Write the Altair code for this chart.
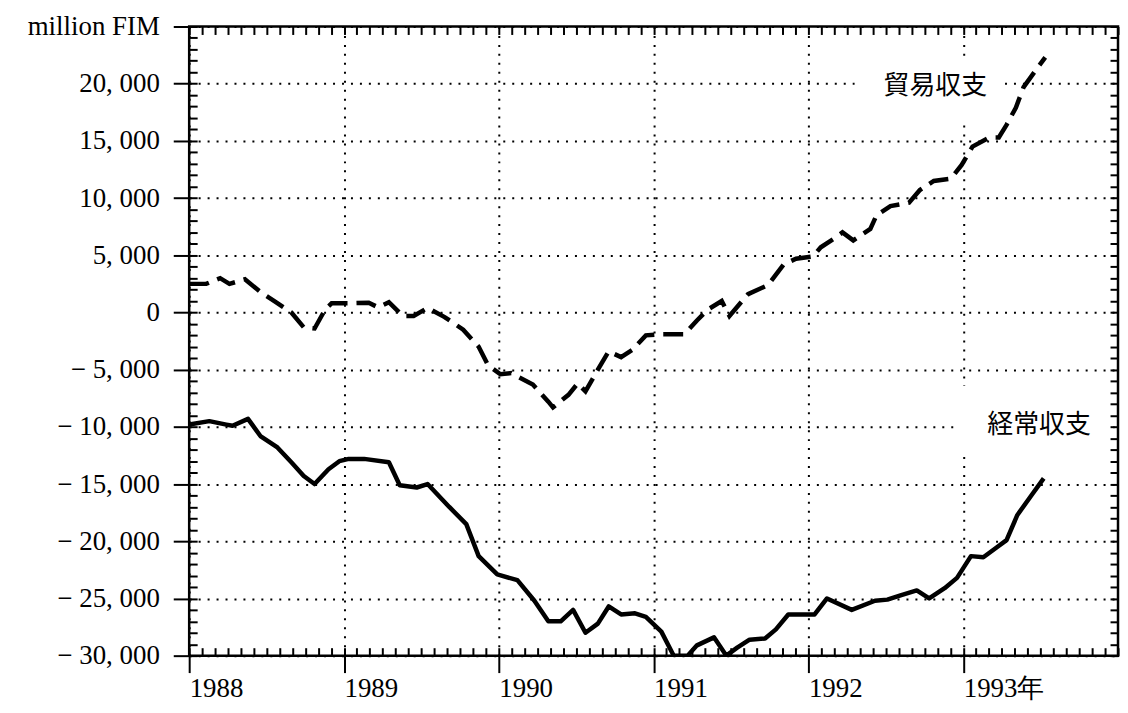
import altair as alt
import pandas as pd

# ---- data (decimal years, million FIM) ----
TRADE_T = [1988.00, 1988.11, 1988.20, 1988.26, 1988.36, 1988.46, 1988.55, 1988.66, 1988.74, 1988.81,
           1988.88, 1988.92, 1989.03, 1989.16, 1989.22, 1989.29, 1989.38, 1989.45, 1989.54, 1989.65,
           1989.77, 1989.87, 1989.93, 1990.01, 1990.08, 1990.22, 1990.32, 1990.35, 1990.45, 1990.51,
           1990.56, 1990.64, 1990.71, 1990.79, 1990.86, 1990.95, 1991.04, 1991.14, 1991.20, 1991.28,
           1991.35, 1991.44, 1991.49, 1991.61, 1991.74, 1991.84, 1991.92, 1992.03, 1992.08, 1992.17,
           1992.22, 1992.29, 1992.40, 1992.44, 1992.53, 1992.65, 1992.72, 1992.81, 1992.92, 1992.99,
           1993.06, 1993.17, 1993.23, 1993.28, 1993.34, 1993.39, 1993.47, 1993.53]
TRADE_V = [2500, 2500, 3000, 2500, 2900, 1800, 1000, 0, -1300, -1400,
           300, 800, 800, 850, 450, 900, -300, -300, 400, -400,
           -1500, -3000, -4600, -5400, -5300, -6300, -7800, -8300, -7200, -6200,
           -6900, -5000, -3400, -3900, -3300, -2000, -1900, -1900, -1900, -700,
           250, 1000, -300, 1600, 2400, 4200, 4700, 4900, 5700, 6500,
           7000, 6300, 7300, 8500, 9300, 9600, 10700, 11500, 11700, 12900,
           14500, 15300, 15300, 16400, 17900, 19700, 21200, 22300]

CA_T = [1988.00, 1988.13, 1988.24, 1988.28, 1988.38, 1988.46, 1988.57, 1988.66, 1988.74, 1988.81,
        1988.90, 1988.97, 1989.03, 1989.13, 1989.29, 1989.36, 1989.47, 1989.54, 1989.68, 1989.79,
        1989.87, 1989.99, 1990.12, 1990.23, 1990.32, 1990.40, 1990.48, 1990.56, 1990.64, 1990.71,
        1990.79, 1990.88, 1990.95, 1991.05, 1991.13, 1991.22, 1991.28, 1991.39, 1991.47, 1991.54,
        1991.62, 1991.72, 1991.79, 1991.87, 1991.96, 1992.04, 1992.12, 1992.28, 1992.43, 1992.51,
        1992.60, 1992.70, 1992.78, 1992.88, 1992.96, 1993.05, 1993.13, 1993.22, 1993.28, 1993.35,
        1993.44, 1993.52]
CA_V = [-9800, -9500, -9800, -9900, -9300, -10800, -11800, -13100, -14300, -15000,
        -13700, -13000, -12800, -12800, -13100, -15100, -15300, -15000, -17000, -18500,
        -21300, -22900, -23400, -25200, -27000, -27000, -26000, -28000, -27200, -25700,
        -26400, -26300, -26600, -27900, -30000, -30000, -29100, -28400, -30000, -29300,
        -28600, -28500, -27700, -26400, -26400, -26400, -25000, -26000, -25200, -25100,
        -24700, -24300, -25000, -24100, -23200, -21300, -21400, -20500, -19900, -17700,
        -16000, -14500]

LABEL_TEXT = ["貿易収支", "経常収支"]
LABEL_T = [1992.82, 1993.49]
LABEL_V = [19800, -9800]

# white patches behind the two labels (they interrupt the grid in the original)
BOX_T1 = [1992.30, 1992.97]
BOX_T2 = [1993.26, 1993.97]
BOX_V1 = [16500, -12300]
BOX_V2 = [22250, -6400]

X_MAJOR = [1988, 1989, 1990, 1991, 1992, 1993]
X_MINOR = [1988 + k / 12 for k in range(73)]
Y_MAJOR = list(range(-30000, 25001, 5000))
Y_MINOR = list(range(-30000, 25001, 1000))

trade = pd.DataFrame({"t": TRADE_T, "v": TRADE_V})
ca = pd.DataFrame({"t": CA_T, "v": CA_V})
labels = pd.DataFrame({"t": LABEL_T, "v": LABEL_V, "txt": LABEL_TEXT})
boxes = pd.DataFrame({"t1": BOX_T1, "t2": BOX_T2, "v1": BOX_V1, "v2": BOX_V2})

xs = alt.Scale(domain=[1988, 1994], nice=False, zero=False)
ys = alt.Scale(domain=[-30000, 25000], nice=False, zero=False)

SERIF = "Liberation Serif"

x_main = alt.Axis(orient="bottom", values=X_MAJOR,
                  labelExpr="datum.value == 1993 ? '1993年' : format(datum.value, 'd')",
                  tickSize=17, tickWidth=2, tickColor="black", domain=False,
                  grid=True, gridDash=[2, 7], gridColor="black", gridWidth=2, gridOpacity=1,
                  labelFont=SERIF, labelFontSize=27, labelColor="black", labelAlign="left",
                  labelPadding=3, labelFlush=False, labelOverlap=False, title=None, zindex=0)
y_main = alt.Axis(orient="left", values=Y_MAJOR,
                  labelExpr="datum.value == 25000 ? 'million FIM' : "
                            "replace(replace(format(datum.value, ','), ',', ', '), '−', '− ')",
                  tickSize=16, tickWidth=2, tickColor="black", domain=False,
                  grid=True, gridDash=[2, 7], gridColor="black", gridWidth=2, gridOpacity=1,
                  labelFont=SERIF, labelFontSize=27, labelColor="black",
                  labelPadding=14, labelFlush=False, labelOverlap=False, title=None, zindex=0)


def minor(orient, vals):
    return alt.Axis(orient=orient, values=vals, offset=-8, tickSize=8, tickWidth=2,
                    tickColor="black", labels=False, domain=False, grid=False,
                    title=None, zindex=1)


box_layer = alt.Chart(boxes).mark_rect(color="white").encode(
    x=alt.X("t1:Q", scale=xs, axis=x_main),
    x2="t2:Q",
    y=alt.Y("v1:Q", scale=ys, axis=y_main),
    y2="v2:Q",
)

trade_layer = alt.Chart(trade).mark_line(
    color="black", strokeWidth=4.5, strokeDash=[20, 9], strokeCap="butt", clip=True
).encode(
    x=alt.X("t:Q", scale=xs, axis=minor("bottom", X_MINOR)),
    y=alt.Y("v:Q", scale=ys, axis=minor("left", Y_MINOR)),
)

ca_layer = alt.Chart(ca).mark_line(
    color="black", strokeWidth=4.5, strokeJoin="round", clip=True
).encode(
    x=alt.X("t:Q", scale=xs, axis=minor("top", X_MINOR)),
    y=alt.Y("v:Q", scale=ys, axis=minor("right", Y_MINOR)),
)

text_layer = alt.Chart(labels).mark_text(
    font="Noto Sans CJK JP", fontSize=26, color="black", align="center", baseline="middle"
).encode(
    x=alt.X("t:Q", scale=xs, axis=None),
    y=alt.Y("v:Q", scale=ys, axis=None),
    text="txt:N",
)

chart = alt.layer(box_layer, trade_layer, ca_layer, text_layer).resolve_scale(
    x="shared", y="shared"
).resolve_axis(
    x="independent", y="independent"
).properties(
    width=933, height=632,
    padding={"left": 182, "top": 17, "right": 2, "bottom": 50},
    autosize=alt.AutoSizeParams(type="none"),
    background="white",
).configure_view(stroke="black", strokeWidth=2.5)

chart.save("out.html", embed_options={"renderer": "svg", "actions": False})
